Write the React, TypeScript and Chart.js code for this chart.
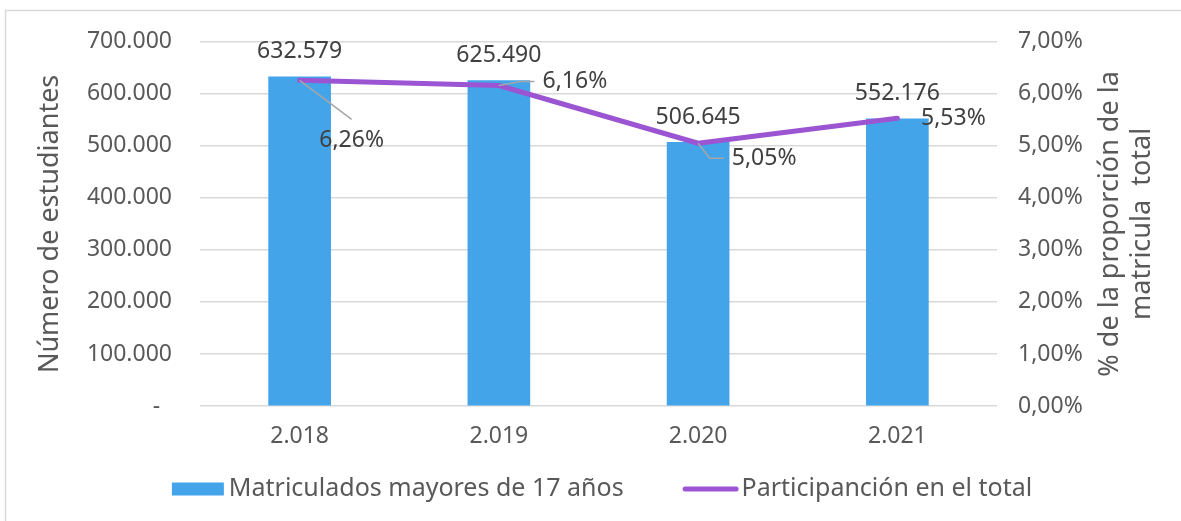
import React, { useEffect, useRef } from 'react';
import { Chart, registerables } from 'chart.js';

Chart.register(...registerables);

// ---- data ----
const categories = ['2.018', '2.019', '2.020', '2.021'];
const enrolled = [632579, 625490, 506645, 552176];
const sharePct = [6.26, 6.16, 5.05, 5.53];
const countTicks = [0, 100000, 200000, 300000, 400000, 500000, 600000, 700000];
const shareTicks = [0, 1, 2, 3, 4, 5, 6, 7];
const barSeriesName = 'Matriculados mayores de 17 años';
const lineSeriesName = 'Participanción en el total';
const leftTitle = 'Número de estudiantes';
const rightTitleLines = ['% de la proporción de la', 'matricula  total'];

// ---- style ----
const FONT = '"Noto Sans", sans-serif';
const TICK_COLOR = '#595959';
const LABEL_COLOR = '#404040';
const BAR_COLOR = '#44a4ea';
const LINE_COLOR = '#9b55d3';
const GRID_COLOR = '#d9d9d9';

const fmtCount = (v: number) =>
  v === 0 ? '-  ' : String(Math.round(v)).replace(/\B(?=(\d{3})+(?!\d))/g, '.');
const fmtPct = (v: number) => v.toFixed(2).replace('.', ',') + '%';

// label placement (relative to each line point), leader style
const shareLabelPlacement = [
  { dx: 52, dy: 60, leader: 'top' },
  { dx: 76, dy: -4, leader: 'left' },
  { dx: 66, dy: 15, leader: 'left' },
  { dx: 56, dy: 0, leader: 'none' },
];

const decorPlugin = {
  id: 'decor',
  beforeDraw(chart: any) {
    const ctx = chart.ctx;
    ctx.save();
    ctx.strokeStyle = GRID_COLOR;
    ctx.lineWidth = 1.5;
    ctx.strokeRect(5.5, 10.5, 1400, 800);
    ctx.restore();
  },
  afterDatasetsDraw(chart: any) {
    const ctx = chart.ctx;
    ctx.save();
    ctx.font = `23px ${FONT}`;
    ctx.fillStyle = LABEL_COLOR;
    ctx.textAlign = 'center';
    ctx.textBaseline = 'middle';
    const barMeta = chart.getDatasetMeta(0);
    barMeta.data.forEach((el: any, i: number) => {
      ctx.fillText(fmtCount(enrolled[i]), el.x, el.y - 25);
    });
    const lineMeta = chart.getDatasetMeta(1);
    lineMeta.data.forEach((pt: any, i: number) => {
      const p = shareLabelPlacement[i];
      const text = fmtPct(sharePct[i]);
      const w = ctx.measureText(text).width;
      const cx = pt.x + p.dx;
      const cy = pt.y + p.dy;
      ctx.strokeStyle = '#a6a6a6';
      ctx.lineWidth = 1.5;
      if (p.leader === 'top') {
        ctx.beginPath();
        ctx.moveTo(pt.x, pt.y);
        ctx.lineTo(cx, cy - 21);
        ctx.stroke();
      } else if (p.leader === 'left') {
        const left = cx - w / 2;
        ctx.beginPath();
        ctx.moveTo(pt.x, pt.y);
        ctx.lineTo(left - 22, cy);
        ctx.lineTo(left - 8, cy);
        ctx.stroke();
      }
      ctx.fillStyle = LABEL_COLOR;
      ctx.fillText(text, cx, cy);
    });
    ctx.restore();
  },
  afterDraw(chart: any) {
    const ctx = chart.ctx;
    const area = chart.chartArea;
    const midY = (area.top + area.bottom) / 2;
    ctx.save();
    ctx.fillStyle = TICK_COLOR;
    ctx.textAlign = 'center';
    ctx.textBaseline = 'middle';
    ctx.font = `27px ${FONT}`;
    // left title
    ctx.save();
    ctx.translate(50, midY);
    ctx.rotate(-Math.PI / 2);
    ctx.fillText(leftTitle, 0, 0);
    ctx.restore();
    // right title (two lines)
    rightTitleLines.forEach((line, i) => {
      ctx.save();
      ctx.translate(1110 + i * 32, midY);
      ctx.rotate(-Math.PI / 2);
      ctx.fillText(line, 0, 0);
      ctx.restore();
    });
    // legend
    ctx.font = `25px ${FONT}`;
    const ds = chart.data.datasets;
    const t1 = ds[0].label;
    const t2 = ds[1].label;
    const w1 = ctx.measureText(t1).width;
    const w2 = ctx.measureText(t2).width;
    const boxW = 52, gap1 = 5, spacing = 59, lineW = 56, gap2 = 3;
    const total = boxW + gap1 + w1 + spacing + lineW + gap2 + w2;
    let x = 602 - total / 2;
    const ly = 489;
    ctx.fillStyle = ds[0].backgroundColor;
    ctx.fillRect(x, ly - 6.5, boxW, 13);
    x += boxW + gap1;
    ctx.fillStyle = TICK_COLOR;
    ctx.textAlign = 'left';
    ctx.fillText(t1, x, ly);
    x += w1 + spacing;
    ctx.strokeStyle = ds[1].borderColor;
    ctx.lineWidth = 5;
    ctx.lineCap = 'round';
    ctx.beginPath();
    ctx.moveTo(x + 2.5, ly);
    ctx.lineTo(x + lineW - 2.5, ly);
    ctx.stroke();
    x += lineW + gap2;
    ctx.fillText(t2, x, ly);
    ctx.restore();
  },
};

export default function App() {
  const ref = useRef<HTMLCanvasElement | null>(null);
  useEffect(() => {
    if (!ref.current) return;
    const chart = new Chart(ref.current, {
      type: 'bar',
      data: {
        labels: categories,
        datasets: [
          {
            type: 'bar',
            label: barSeriesName,
            data: enrolled,
            backgroundColor: BAR_COLOR,
            barThickness: 62,
            yAxisID: 'y',
            order: 1,
          } as any,
          {
            type: 'line',
            label: lineSeriesName,
            data: sharePct,
            borderColor: LINE_COLOR,
            backgroundColor: LINE_COLOR,
            borderWidth: 5,
            borderCapStyle: 'round',
            borderJoinStyle: 'round',
            pointRadius: 0,
            tension: 0,
            yAxisID: 'y1',
            order: 0,
          } as any,
        ],
      },
      options: {
        responsive: false,
        maintainAspectRatio: false,
        animation: false,
        events: [],
        layout: { padding: { top: 40, left: 0, right: 0, bottom: 0 } },
        plugins: { legend: { display: false }, tooltip: { enabled: false }, title: { display: false } },
        scales: {
          x: {
            grid: { display: false, drawTicks: false },
            border: { display: false },
            ticks: { color: TICK_COLOR, font: { family: FONT, size: 23 }, padding: 17 },
            afterFit: (s: any) => { s.height = 115; },
          },
          y: {
            position: 'left',
            min: 0,
            max: 700000,
            afterBuildTicks: (s: any) => { s.ticks = countTicks.map((v) => ({ value: v })); },
            grid: { color: GRID_COLOR, lineWidth: 1.5, drawTicks: false },
            border: { display: false },
            ticks: {
              color: TICK_COLOR,
              font: { family: FONT, size: 23 },
              padding: 28,
              callback: (v: any) => fmtCount(Number(v)),
            },
            afterFit: (s: any) => { s.width = 200; },
          },
          y1: {
            position: 'right',
            min: 0,
            max: 7,
            afterBuildTicks: (s: any) => { s.ticks = shareTicks.map((v) => ({ value: v })); },
            grid: { display: false, drawTicks: false },
            border: { display: false },
            ticks: {
              color: TICK_COLOR,
              font: { family: FONT, size: 23 },
              padding: 21,
              callback: (v: any) => fmtPct(Number(v)),
            },
            afterFit: (s: any) => { s.width = 184; },
          },
        },
      } as any,
      plugins: [decorPlugin],
    });
    return () => chart.destroy();
  }, []);
  return (
    <div style={{ position: 'absolute', left: 0, top: 0, width: 1181, height: 521, background: '#fff' }}>
      <canvas ref={ref} width={1181} height={521} />
    </div>
  );
}
